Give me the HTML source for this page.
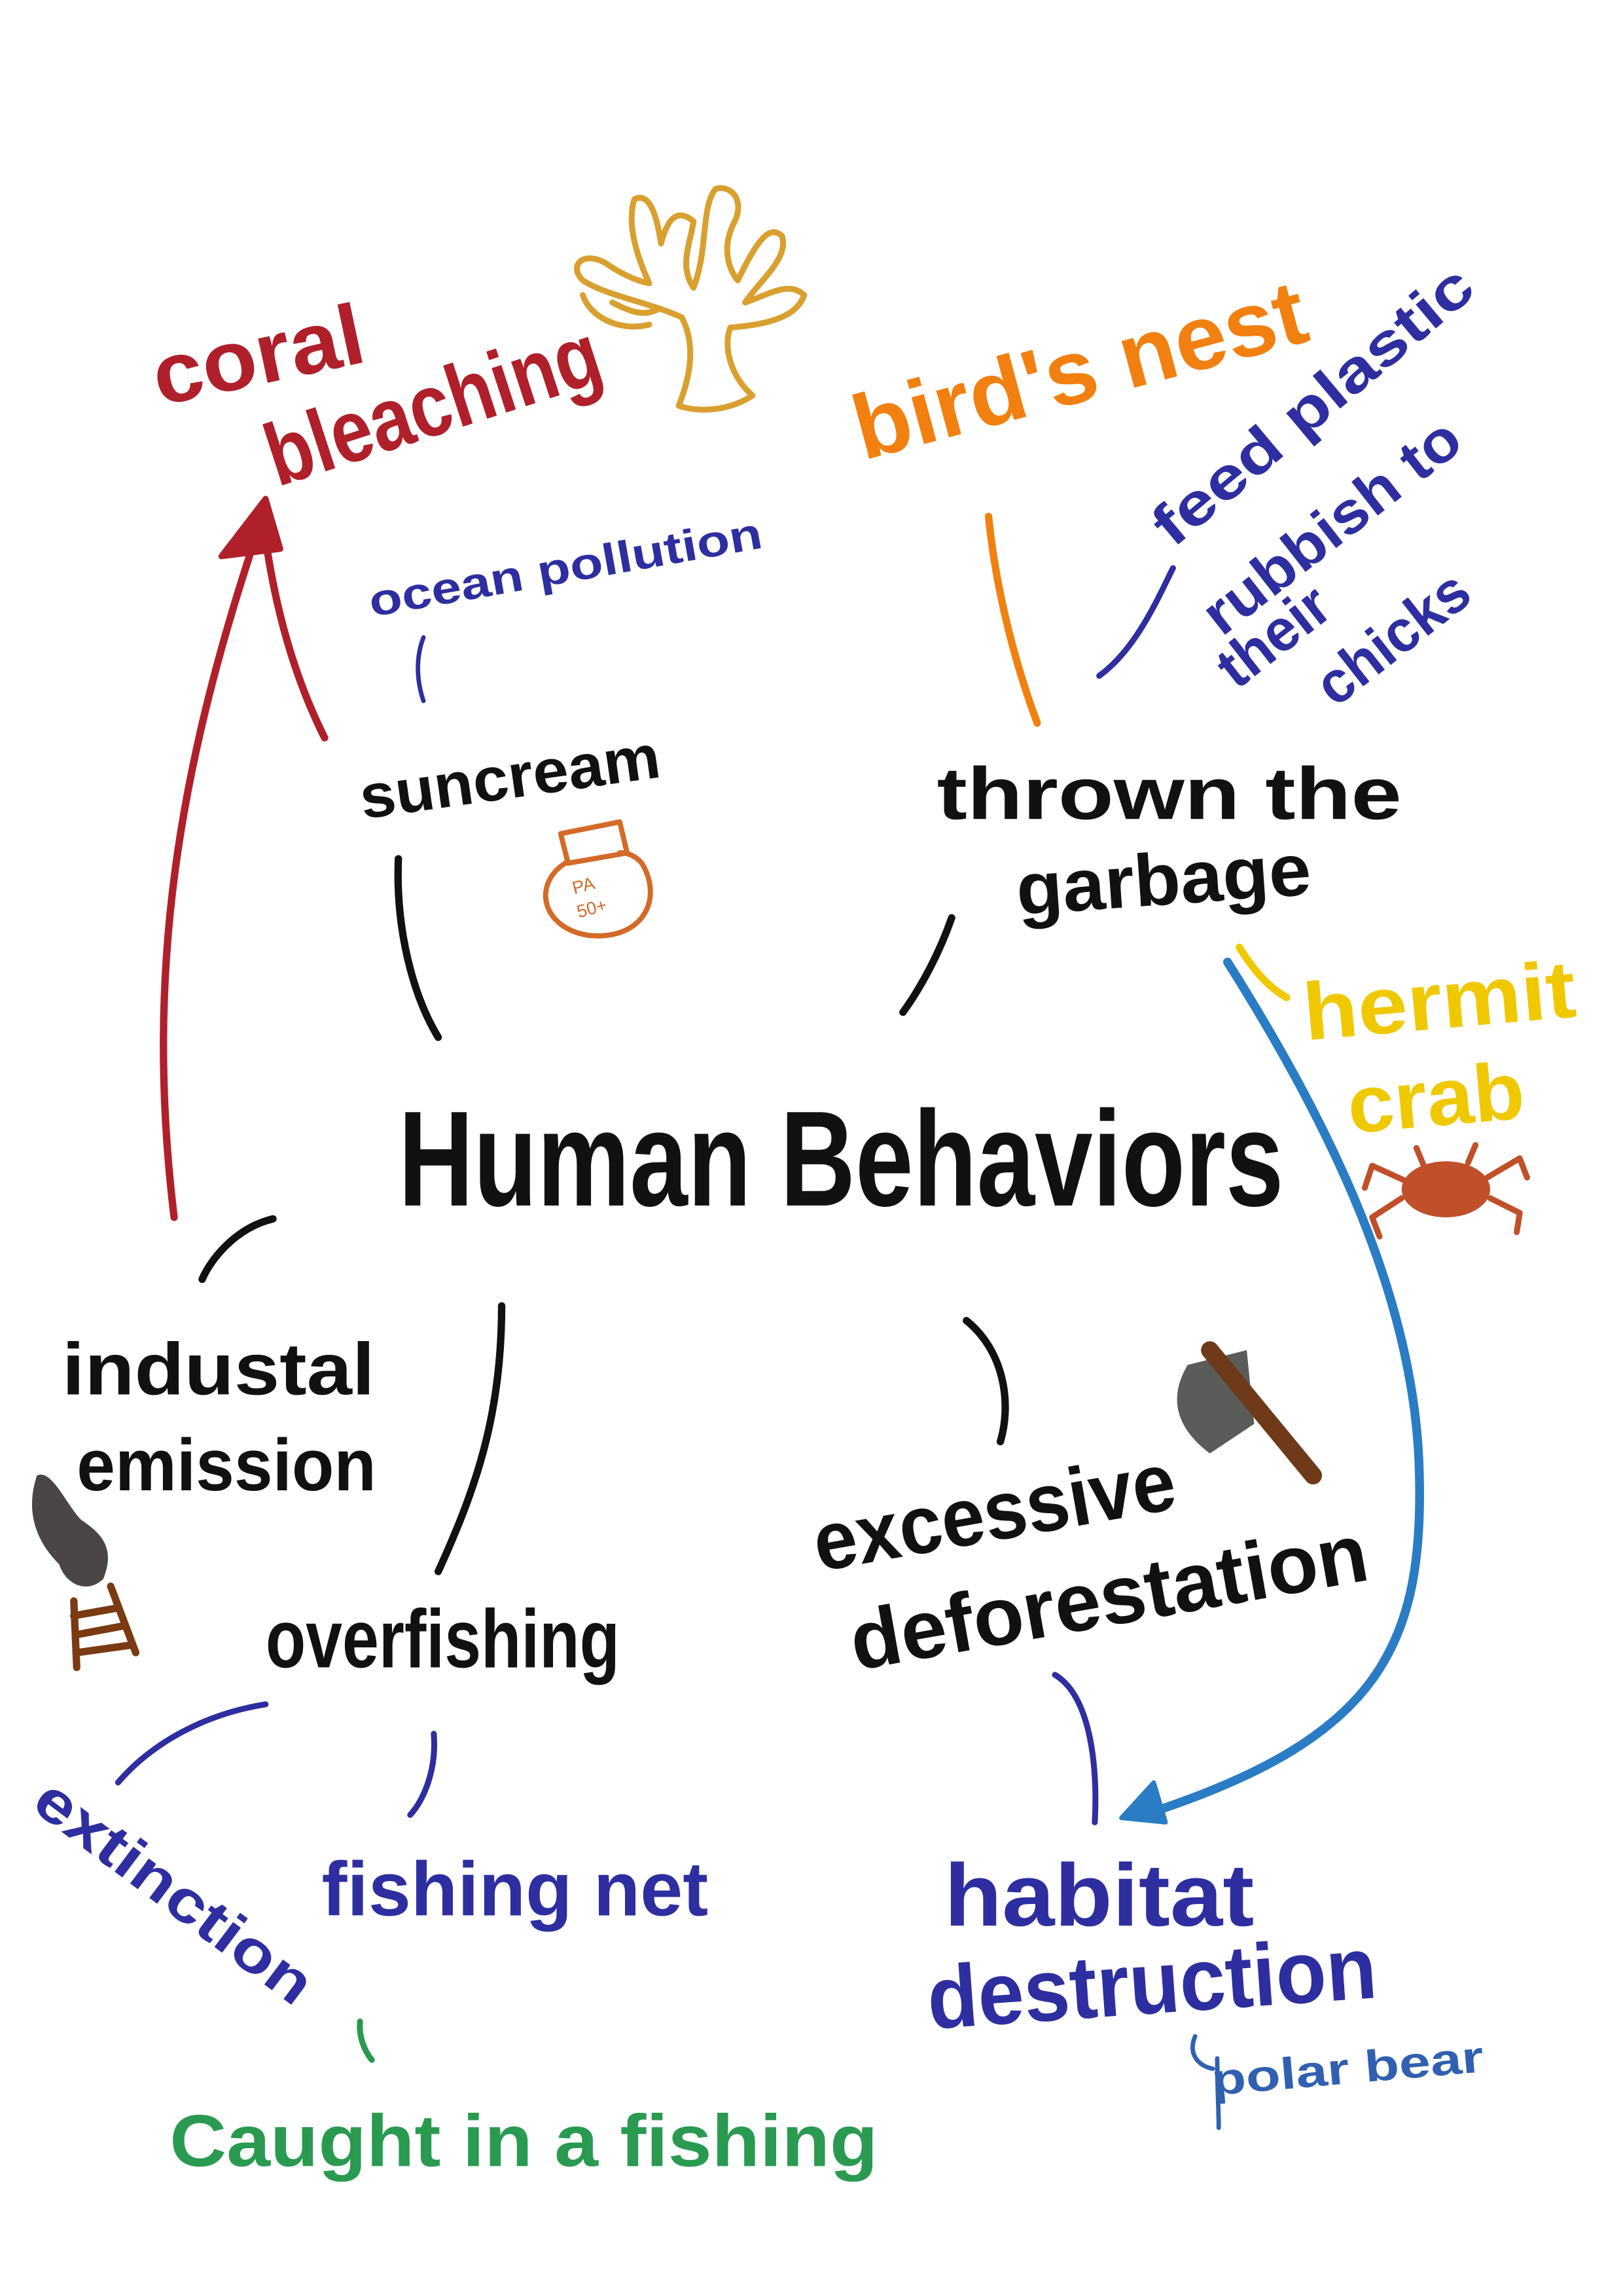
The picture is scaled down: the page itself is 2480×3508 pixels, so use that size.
<!DOCTYPE html>
<html><head><meta charset="utf-8"><style>
html,body{margin:0;padding:0;background:#fff;}
svg{display:block;}
text{font-family:"Liberation Sans",sans-serif;}
</style></head><body>
<svg width="2480" height="3508" viewBox="0 0 1100 1556" xmlns="http://www.w3.org/2000/svg">
<rect width="1100" height="1556" fill="#fff"/>
<g fill="none" stroke-linecap="round" stroke-linejoin="round">
<path d="M118 825 C98 660 120 520 178 350" stroke="#b0202a" stroke-width="5"/>
<path d="M220 500 C200 460 185 410 178 350" stroke="#b0202a" stroke-width="5"/>
<path d="M150 377 L180 338 L190 372 Z" fill="#b0202a" stroke="#b0202a" stroke-width="4"/>
<g stroke="#d9a030" stroke-width="4">
<path d="M460 275 C470 250 470 230 462 215 C440 205 410 200 395 190 C385 180 395 170 410 178 C420 185 430 190 440 192 C430 170 425 150 430 135 C440 130 445 145 448 165 C452 150 458 140 470 150 C468 165 460 180 470 195 C480 170 475 140 485 128 C495 125 505 135 498 150 C490 165 492 180 500 190 C510 170 520 150 530 160 C535 175 515 190 505 205 C520 200 535 190 545 200 C540 215 520 220 495 222 C490 235 495 255 510 268 C495 278 475 280 460 275 Z"/>
<path d="M395 200 C400 215 420 225 440 220 M415 205 C425 210 435 215 445 210"/>
</g>
<path d="M670 350 C675 400 688 450 703 490" stroke="#f28010" stroke-width="5"/>
<path d="M745 458 C770 440 785 405 795 385" stroke="#2e2ea0" stroke-width="4"/>
<path d="M287 432 C282 445 282 460 287 475" stroke="#2e2ea0" stroke-width="3"/>
<g stroke="#111" stroke-width="5">
<path d="M270 582 C268 630 280 675 297 703"/>
<path d="M645 622 C637 645 625 668 612 686"/>
<path d="M185 826 C160 832 143 853 137 867"/>
<path d="M340 885 C340 960 322 1010 297 1065"/>
<path d="M655 895 C680 915 686 950 678 977"/>
</g>
<g stroke="#d46a28" stroke-width="3.5">
<path d="M380 565 L420 557 L425 578 L385 585 Z"/>
<path d="M383 585 C360 600 368 630 400 634 C435 637 450 610 435 585 C428 577 420 578 420 578"/>
</g>
<text x="388" y="603" font-size="12" fill="#d46a28" transform="rotate(-15 400 600)">PA</text>
<text x="392" y="620" font-size="12" fill="#d46a28" transform="rotate(-15 400 620)">50+</text>
<path d="M832 652 C900 760 960 880 962 1000 C965 1120 930 1180 775 1230" stroke="#2a7cc4" stroke-width="6"/>
<path d="M760 1232 L782 1208 L790 1235 Z" fill="#2a7cc4" stroke="#2a7cc4" stroke-width="3"/>
<path d="M840 642 C848 655 858 668 872 676" stroke="#f0c800" stroke-width="5"/>
<ellipse cx="980" cy="806" rx="30" ry="19" fill="#c0502a"/>
<g stroke="#c0502a" stroke-width="4">
<path d="M952 800 L930 790 L925 805 M950 812 L930 825 L935 838 M1008 798 L1030 785 L1035 798 M1010 812 L1030 822 L1028 835 M965 790 L960 778 M995 788 L1000 776"/>
</g>
<path d="M805 925 L845 915 L850 965 L820 985 C800 970 790 950 805 925 Z" fill="#5a5c5a"/>
<path d="M820 915 L890 1000" stroke="#6e3a1a" stroke-width="12"/>
<path d="M25 1000 C35 995 45 1020 55 1030 C70 1040 78 1050 70 1070 C60 1080 45 1075 40 1060 C30 1050 15 1030 25 1000 Z" fill="#4a4646"/>
<g stroke="#7a3a12" stroke-width="5">
<path d="M50 1085 L52 1130 M75 1075 L92 1120 M50 1095 L78 1090 M51 1108 L83 1102 M52 1120 L88 1115"/>
</g>
<g stroke="#2e2ea0" stroke-width="4">
<path d="M180 1155 C130 1163 97 1188 80 1208"/>
<path d="M294 1175 C296 1200 287 1220 278 1230"/>
<path d="M715 1135 C740 1150 744 1200 742 1235"/>
</g>
<path d="M810 1380 C805 1392 812 1400 822 1402 M825 1395 C825 1415 826 1430 826 1442" stroke="#3060b0" stroke-width="3"/>
<path d="M244 1370 C243 1380 247 1390 252 1396" stroke="#2a9a50" stroke-width="4"/>
</g>
<g font-weight="bold" lengthAdjust="spacingAndGlyphs">
<text x="108" y="275" font-size="58" fill="#b0202a" transform="rotate(-12 108 275)" textLength="145" lengthAdjust="spacingAndGlyphs">coral</text>
<text x="188" y="330" font-size="60" fill="#b0202a" transform="rotate(-18 188 330)" textLength="235" lengthAdjust="spacingAndGlyphs">bleaching</text>
<text x="585" y="312" font-size="62" fill="#f28010" transform="rotate(-15 585 312)" textLength="315" lengthAdjust="spacingAndGlyphs">bird's nest</text>
<text x="795" y="372" font-size="40" fill="#2e2ea0" transform="rotate(-40 795 372)" textLength="270" lengthAdjust="spacingAndGlyphs">feed plastic</text>
<text x="828" y="432" font-size="40" fill="#2e2ea0" transform="rotate(-38 828 432)" textLength="210" lengthAdjust="spacingAndGlyphs">rubbish to</text>
<text x="838" y="468" font-size="40" fill="#2e2ea0" transform="rotate(-38 838 468)" textLength="85" lengthAdjust="spacingAndGlyphs">their</text>
<text x="905" y="480" font-size="40" fill="#2e2ea0" transform="rotate(-38 905 480)" textLength="120" lengthAdjust="spacingAndGlyphs">chicks</text>
<text x="252" y="418" font-size="30" fill="#2e2ea0" transform="rotate(-10 252 418)" textLength="270" lengthAdjust="spacingAndGlyphs">ocean pollution</text>
<text x="246" y="555" font-size="42" fill="#111" transform="rotate(-8 246 555)" textLength="205" lengthAdjust="spacingAndGlyphs">suncream</text>
<text x="635" y="555" font-size="50" fill="#111" textLength="315" lengthAdjust="spacingAndGlyphs">thrown  the</text>
<text x="690" y="620" font-size="50" fill="#111" transform="rotate(-4 690 620)" textLength="200" lengthAdjust="spacingAndGlyphs">garbage</text>
<text x="885" y="705" font-size="55" fill="#f0c800" transform="rotate(-5 885 705)" textLength="185" lengthAdjust="spacingAndGlyphs">hermit</text>
<text x="915" y="768" font-size="55" fill="#f0c800" transform="rotate(-5 915 768)" textLength="120" lengthAdjust="spacingAndGlyphs">crab</text>
<text x="270" y="817" font-size="92" fill="#111" textLength="600" lengthAdjust="spacingAndGlyphs">Human  Behaviors</text>
<text x="42" y="945" font-size="50" fill="#111" textLength="212" lengthAdjust="spacingAndGlyphs">industal</text>
<text x="52" y="1010" font-size="50" fill="#111" textLength="203" lengthAdjust="spacingAndGlyphs">emission</text>
<text x="180" y="1130" font-size="56" fill="#111" textLength="240" lengthAdjust="spacingAndGlyphs">overfishing</text>
<text x="555" y="1065" font-size="56" fill="#111" transform="rotate(-10 555 1065)" textLength="248" lengthAdjust="spacingAndGlyphs">excessive</text>
<text x="580" y="1132" font-size="56" fill="#111" transform="rotate(-10 580 1132)" textLength="355" lengthAdjust="spacingAndGlyphs">deforestation</text>
<text x="20" y="1225" font-size="40" fill="#2e2ea0" transform="rotate(37 20 1225)" textLength="225" lengthAdjust="spacingAndGlyphs">extinction</text>
<text x="218" y="1298" font-size="52" fill="#2e2ea0" textLength="262" lengthAdjust="spacingAndGlyphs">fishing net</text>
<text x="640" y="1305" font-size="60" fill="#2e2ea0" textLength="210" lengthAdjust="spacingAndGlyphs">habitat</text>
<text x="630" y="1375" font-size="60" fill="#2e2ea0" transform="rotate(-4 630 1375)" textLength="305" lengthAdjust="spacingAndGlyphs">destruction</text>
<text x="822" y="1420" font-size="30" fill="#3060b0" transform="rotate(-5 822 1420)" textLength="185" lengthAdjust="spacingAndGlyphs">polar bear</text>
<text x="115" y="1468" font-size="50" fill="#2a9a50" textLength="480" lengthAdjust="spacingAndGlyphs">Caught  in  a  fishing</text>
</g>
</svg>
</body></html>
